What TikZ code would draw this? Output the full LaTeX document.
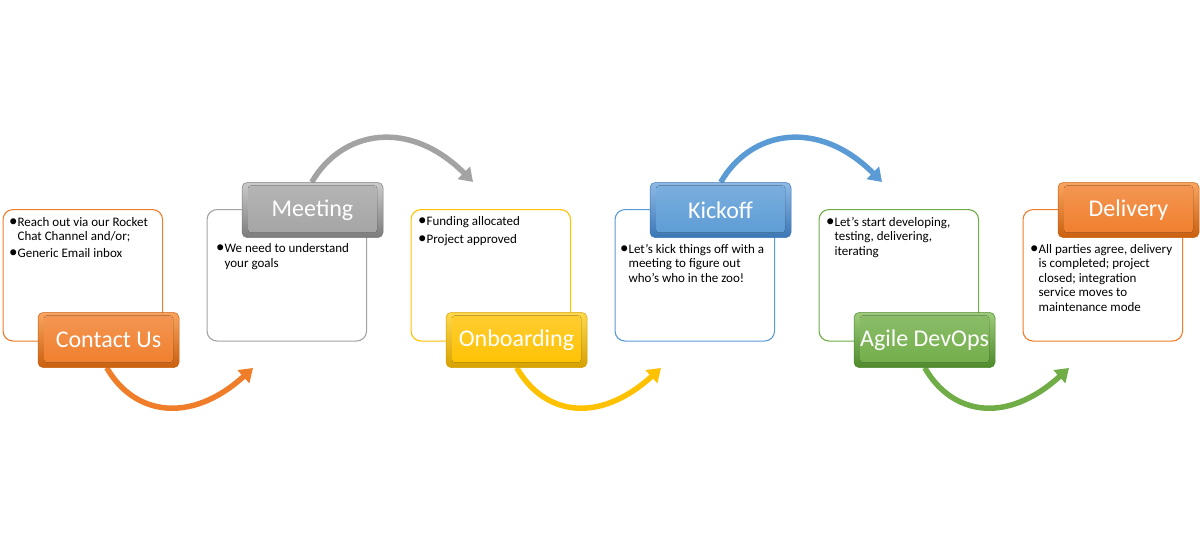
\documentclass[tikz,border=0pt]{standalone}
\usepackage{fontspec}
\setmainfont{Carlito}
\usetikzlibrary{arrows.meta,calc,backgrounds}
\definecolor{orangeL}{HTML}{F9A45F}
\definecolor{orangeM}{HTML}{F07D2A}
\definecolor{orangeD}{HTML}{C9600F}
\definecolor{grayL}{HTML}{CACACA}
\definecolor{grayM}{HTML}{A3A3A3}
\definecolor{grayD}{HTML}{7C7C7C}
\definecolor{goldL}{HTML}{FFD94D}
\definecolor{goldM}{HTML}{FFC100}
\definecolor{goldD}{HTML}{D6A100}
\definecolor{blueL}{HTML}{8EB9E6}
\definecolor{blueM}{HTML}{5B9BD5}
\definecolor{blueD}{HTML}{3B77B5}
\definecolor{greenL}{HTML}{9DCB7B}
\definecolor{greenM}{HTML}{70AD47}
\definecolor{greenD}{HTML}{4E8A2C}
\newcommand{\bul}{\scalebox{1.3}{•}}
\begin{document}
\begin{tikzpicture}[x=1pt,y=-1pt,
  tbox/.style={draw=#1M, line width=1.1pt, rounded corners=10pt, fill=white,
    minimum width=159.5pt, minimum height=131.5pt, inner sep=0pt, anchor=north west},
  lbl/.style={minimum width=141pt, minimum height=55pt, rounded corners=5pt,
    inner sep=0pt, draw=#1D, line width=0.5pt, top color=#1L, bottom color=#1D,
    text=white, font=\fontsize{24}{28}\selectfont,
    path picture={\fill[rounded corners=3pt, top color=#1M!80!white, bottom color=#1M]
      ($(path picture bounding box.north west)+(6,3)$) rectangle
      ($(path picture bounding box.south east)+(-6,-5)$);}},
  btext/.style={anchor=base west, inner sep=0pt, font=\fontsize{13}{14.5}\selectfont, text=black},
  arr/.style={line width=5.5pt, draw=#1, -{Triangle[width=17pt,length=13pt]}}
]
\useasboundingbox (0,0) rectangle (1200,551);

% text boxes
\node[tbox=orange] (tb1) at (2.5,209) {};
\node[tbox=gray]   (tb2) at (206.5,209) {};
\node[tbox=gold]   (tb3) at (410.5,209) {};
\node[tbox=blue]   (tb4) at (614.5,209) {};
\node[tbox=green]  (tb5) at (818.5,209) {};
\node[tbox=orange] (tb6) at (1022.5,209) {};

% texts
\node[btext] (t1) at (9,226) {\begin{tabular}[t]{@{}l@{}l@{}}\bul&Reach out via our Rocket\\ &Chat Channel and/or;\\[2pt] \bul&Generic Email inbox\end{tabular}};
\node[btext] (t2) at (216,252.5) {\begin{tabular}[t]{@{}l@{}l@{}}\bul&We need to understand\\ &your goals\end{tabular}};
\node[btext] (t3) at (418,225.5) {\begin{tabular}[t]{@{}l@{}l@{}}\bul&Funding allocated\\[3pt] \bul&Project approved\end{tabular}};
\node[btext] (t4) at (620,253) {\begin{tabular}[t]{@{}l@{}l@{}}\bul&Let’s kick things off with a\\ &meeting to figure out\\ &who’s who in the zoo!\end{tabular}};
\node[btext] (t5) at (826,226) {\begin{tabular}[t]{@{}l@{}l@{}}\bul&Let’s start developing,\\ &testing, delivering,\\ &iterating\end{tabular}};
\node[btext] (t6) at (1030,253) {\begin{tabular}[t]{@{}l@{}l@{}}\bul&All parties agree, delivery\\ &is completed; project\\ &closed; integration\\ &service moves to\\ &maintenance mode\end{tabular}};

% labels
\node[lbl=orange] (contact) at (108.5,340) {Contact Us};
\node[lbl=gray]   (meeting) at (312.5,210) {Meeting};
\node[lbl=gold]   (onboard) at (516.5,340) {Onboarding};
\node[lbl=blue]   (kickoff) at (720.5,210) {Kickoff};
\node[lbl=green]  (agile)   at (924.5,340) {Agile DevOps};
\node[lbl=orange] (deliver) at (1128.5,210) {Delivery};

% arrow ends
\coordinate (e1) at (253,368);
\coordinate (e2) at (473,182);
\coordinate (e3) at (661,368);
\coordinate (e4) at (882,182);
\coordinate (e5) at (1069,368);

\begin{scope}[on background layer]
\draw[arr=orangeM] ($(contact.south west)+(69,0)$) .. controls +(27,47) and +(-63,57) .. (e1);
\draw[arr=grayM]   ($(meeting.north west)+(70,0)$) .. controls +(30,-52) and +(-64,-64) .. (e2);
\draw[arr=goldM]   ($(onboard.south west)+(71,0)$) .. controls +(27,47) and +(-63,57) .. (e3);
\draw[arr=blueM]   ($(kickoff.north west)+(71,0)$) .. controls +(30,-52) and +(-64,-64) .. (e4);
\draw[arr=greenM]  ($(agile.south west)+(71,0)$) .. controls +(27,47) and +(-63,57) .. (e5);
\end{scope}
\end{tikzpicture}
\end{document}
